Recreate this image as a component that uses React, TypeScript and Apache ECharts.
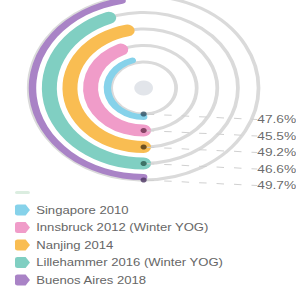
import React, { useEffect, useRef } from 'react';
import * as echarts from 'echarts';

const categories = [
  'Singapore 2010',
  'Innsbruck 2012 (Winter YOG)',
  'Nanjing 2014',
  'Lillehammer 2016 (Winter YOG)',
  'Buenos Aires 2018',
];
const values = [47.6, 45.5, 49.2, 46.6, 49.7];

const colors = ['#86d2ea', '#f09cc9', '#f9bd52', '#80cfc2', '#a983c6'];
const dotColors = ['#2d4f63', '#6a2e4c', '#4a3414', '#2c5a50', '#4a3260'];

const BASE_W = 237;
const BASE_H = 287;
const SX = 296 / BASE_W;
const CX = 115;
const CY = 88;
const ANGLE_MAX = 106;

const TAG_ICON = 'path://M2,0 H8.5 L12,5.5 L8.5,11 H2 Q0,11 0,9 V2 Q0,0 2,0 Z';
const PILL_ICON = 'path://M1.5,0 H10.5 A1.5,1.5 0 0 1 10.5,3 H1.5 A1.5,1.5 0 0 1 1.5,0 Z';

export default function App() {
  const ref = useRef<HTMLDivElement>(null);
  useEffect(() => {
    const chart = echarts.init(ref.current!, null, { renderer: 'svg' });
    const bars = categories.map((c, i) => ({
      type: 'bar',
      name: c,
      coordinateSystem: 'polar',
      stack: 'total',
      roundCap: true,
      barWidth: 12,
      itemStyle: { color: colors[i] },
      data: values.map((v, j) => (j === i ? v : '-')),
    }));
    chart.setOption({
      animation: false,
      textStyle: { fontFamily: 'Liberation Sans, Arial, sans-serif' },
      polar: { center: [CX, CY], radius: [26, 92] },
      angleAxis: {
        type: 'value',
        min: 0,
        max: ANGLE_MAX,
        startAngle: 270,
        clockwise: true,
        show: false,
      },
      radiusAxis: {
        type: 'category',
        data: categories,
        boundaryGap: false,
        axisLine: { show: false },
        axisTick: { show: false },
        axisLabel: { show: false, interval: 0 },
        splitLine: { show: true, interval: 0, lineStyle: { color: '#dadada', width: 3 } },
      },
      legend: {
        orient: 'vertical',
        left: 12,
        top: 187,
        padding: 0,
        itemWidth: 12,
        itemHeight: 11,
        itemGap: 6.5,
        itemTextGap: 3,
        textStyle: { fontSize: 10.5, color: '#666' },
        data: [
          { name: ' ', icon: PILL_ICON, itemStyle: { color: '#d2e9d8' } },
          ...categories.map((c) => ({ name: c, icon: TAG_ICON })),
        ],
      },
      graphic: [
        {
          type: 'circle',
          shape: { cx: CX, cy: CY, r: 7.5 },
          style: { fill: '#e2e5ea' },
        },
      ],
      series: [
        ...bars,
        {
          type: 'scatter',
          name: ' ',
          coordinateSystem: 'polar',
          symbolSize: 5,
          z: 5,
          data: categories.map((c, i) => ({ value: [i, 0], itemStyle: { color: dotColors[i] } })),
          label: {
            show: true,
            position: 'right',
            formatter: (p: any) => values[p.dataIndex].toFixed(1) + '%',
            fontSize: 11,
            color: '#444',
          },
          labelLayout: { x: 206, align: 'left' },
          labelLine: { show: true, lineStyle: { color: '#d0d0d0', width: 1, type: [6, 8] } },
        },
      ],
    });
    return () => chart.dispose();
  }, []);
  return (
    <div
      style={{
        position: 'fixed',
        left: 0,
        top: 0,
        width: 296,
        height: 287,
        overflow: 'hidden',
        background: '#fff',
      }}
    >
      <div
        ref={ref}
        style={{ width: BASE_W, height: BASE_H, transform: `scale(${SX},1)`, transformOrigin: '0 0' }}
      />
    </div>
  );
}
